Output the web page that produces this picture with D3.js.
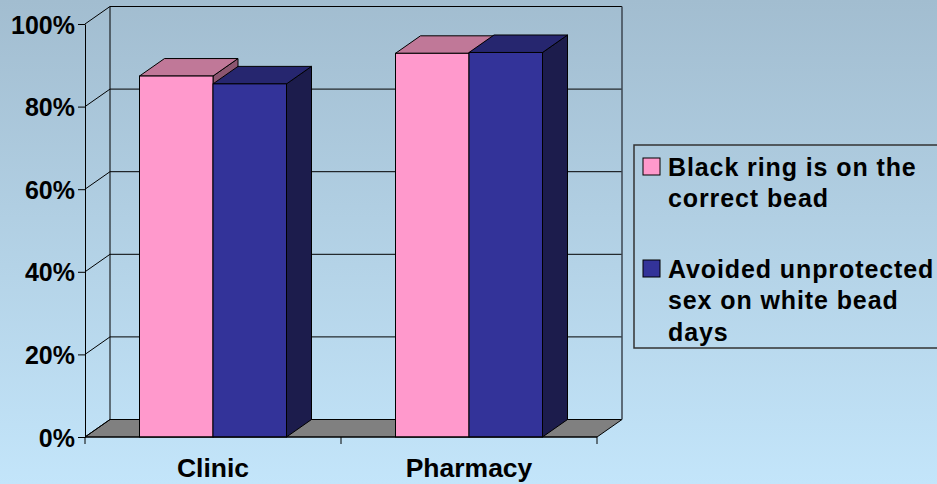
<!DOCTYPE html>
<html>
<head>
<meta charset="utf-8">
<script src="https://cdn.jsdelivr.net/npm/d3@7"></script>
<style>
  body { margin: 0; padding: 0; overflow: hidden; }
  svg { display: block; }
  text { font-family: "Liberation Sans", Arial, sans-serif; font-weight: bold; fill: #000; }
</style>
</head>
<body>
<svg id="chart"></svg>
<script>
// chart data
var categories = ["Clinic", "Pharmacy"];
var ringCorrect = [0.874, 0.929];
var avoidedSex = [0.855, 0.931];
var seriesLabels = [
  ["Black ring is on the", "correct bead"],
  ["Avoided unprotected", "sex on white bead", "days"]
];
var yTicks = [0, 0.2, 0.4, 0.6, 0.8, 1];

var WIDTH = 937, HEIGHT = 484;
var DX = 25, DY = 17.5;   // 3d depth offset
var colors = [
  { front: "#ff99cc", top: "#c07898", side: "#8c5670" },
  { front: "#333399", top: "#26266f", side: "#1c1c4c" }
];

var svg = d3.select("#chart").attr("width", WIDTH).attr("height", HEIGHT);

var defs = svg.append("defs");
var grad = defs.append("linearGradient").attr("id", "bg")
  .attr("x1", 0).attr("y1", 0).attr("x2", 0).attr("y2", 1);
grad.append("stop").attr("offset", "0%").attr("stop-color", "#a2bdd0");
grad.append("stop").attr("offset", "100%").attr("stop-color", "#c3e5fa");
svg.append("rect").attr("width", WIDTH).attr("height", HEIGHT).attr("fill", "url(#bg)");

var y = d3.scaleLinear().domain([0, 1]).range([437, 24]);
var x = d3.scaleBand().domain(categories).range([85, 597]).paddingInner(0).paddingOuter(0);
var groupW = 147;
var xs = d3.scaleBand().domain([0, 1]).range([0, groupW]);

var g = svg.append("g");

// floor
var y0 = y(0), x0 = x.range()[0], x1 = x.range()[1];
g.append("polygon")
  .attr("points", [[x0, y0], [x1, y0], [x1 + DX, y0 - DY], [x0 + DX, y0 - DY]].join(" "))
  .attr("fill", "#808080").attr("stroke", "#000").attr("stroke-width", 1);

// back wall grid lines + left wall diagonals
yTicks.forEach(function(t) {
  if (t > 0) {
    g.append("line")
      .attr("x1", x0 + DX).attr("x2", x1 + DX)
      .attr("y1", y(t) - DY).attr("y2", y(t) - DY)
      .attr("stroke", "#000").attr("stroke-width", 1);
  }
  g.append("line")
    .attr("x1", x0).attr("y1", y(t))
    .attr("x2", x0 + DX).attr("y2", y(t) - DY)
    .attr("stroke", "#000").attr("stroke-width", 1);
});
// wall edges
g.append("line").attr("x1", x0 + DX).attr("x2", x0 + DX)
  .attr("y1", y(1) - DY).attr("y2", y0 - DY).attr("stroke", "#000");
g.append("line").attr("x1", x1 + DX).attr("x2", x1 + DX)
  .attr("y1", y(1) - DY).attr("y2", y0 - DY).attr("stroke", "#3c4650").attr("stroke-width", 1.5);

// bars
var series = [ringCorrect, avoidedSex];
categories.forEach(function(c, i) {
  var gx = x(c) + (x.bandwidth() - groupW) / 2;
  series.forEach(function(vals, s) {
    var bx = gx + xs(s), w = xs.bandwidth(), yv = y(vals[i]);
    var col = colors[s];
    var bar = g.append("g");
    bar.append("polygon")
      .attr("points", [[bx + w, yv], [bx + w + DX, yv - DY], [bx + w + DX, y0 - DY], [bx + w, y0]].join(" "))
      .attr("fill", col.side).attr("stroke", "#000").attr("stroke-width", 1).attr("stroke-linejoin", "round");
    bar.append("polygon")
      .attr("points", [[bx, yv], [bx + DX, yv - DY], [bx + w + DX, yv - DY], [bx + w, yv]].join(" "))
      .attr("fill", col.top).attr("stroke", "#000").attr("stroke-width", 1).attr("stroke-linejoin", "round");
    bar.append("rect")
      .attr("x", bx).attr("y", yv).attr("width", w).attr("height", y0 - yv)
      .attr("fill", col.front).attr("stroke", "#000").attr("stroke-width", 1);
  });
});

// y axis
var yAxis = svg.append("g").attr("transform", "translate(85,0)")
  .call(d3.axisLeft(y).tickValues(yTicks).tickFormat(d3.format(".0%")).tickSize(7).tickSizeOuter(0).tickPadding(3));
yAxis.select(".domain").attr("stroke", "#000");
yAxis.selectAll(".tick line").attr("stroke", "#000");
yAxis.selectAll("text").style("font-size", "25px").attr("dy", "0.36em");

// x axis
var xAxis = svg.append("g").attr("transform", "translate(0," + y0 + ")")
  .call(d3.axisBottom(x).tickSize(0).tickPadding(0));
xAxis.select(".domain").attr("d", "M" + x0 + ",0H" + x1).attr("stroke", "#000");
xAxis.selectAll("text").style("font-size", "26.5px").attr("y", 40).attr("dy", 0);
var bounds = categories.map(function(c) { return x(c); }).concat([x1]);
xAxis.selectAll(".bound").data(bounds).enter().append("line")
  .attr("x1", function(d) { return d; }).attr("x2", function(d) { return d; })
  .attr("y1", 0).attr("y2", 7).attr("stroke", "#000");

// legend
var legend = svg.append("g").attr("transform", "translate(634,145)");
legend.append("rect").attr("x", 0).attr("y", 0).attr("width", 320).attr("height", 203)
  .attr("fill", "none").attr("stroke", "#333").attr("stroke-width", 1.5);
var itemY = [13, 115];
seriesLabels.forEach(function(lines, s) {
  var it = legend.append("g").attr("transform", "translate(0," + itemY[s] + ")");
  it.append("rect").attr("x", 9).attr("y", 0).attr("width", 17).attr("height", 17)
    .attr("fill", colors[s].front).attr("stroke", "#000").attr("stroke-width", 1);
  it.selectAll("text").data(lines).enter().append("text")
    .attr("x", 34).attr("y", function(d, k) { return 17.5 + k * 31.5; })
    .style("font-size", "25px").style("letter-spacing", "0.9px")
    .text(function(d) { return d; });
});
</script>
</body>
</html>
